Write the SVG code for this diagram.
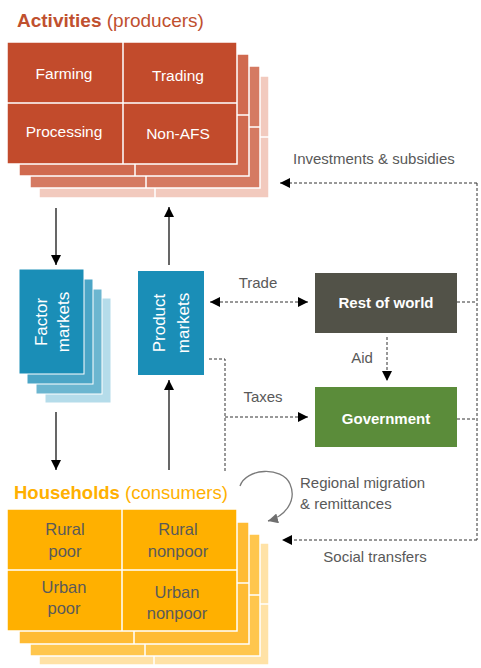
<svg xmlns="http://www.w3.org/2000/svg" width="481" height="668" viewBox="0 0 481 668">
<style>
text{font-family:"Liberation Sans",Arial,sans-serif}
.lbl{font-size:15px;fill:#595959}
.cellw{font-size:15.5px;fill:#ffffff;text-anchor:middle}
.cellh{font-size:16.5px;fill:#5a5a5a;text-anchor:middle}
.grid{stroke:#ffffff;stroke-width:1.5;fill:none}
.solid{stroke:#000;stroke-width:1.2;fill:none}
.dash{stroke:#333;stroke-width:1;stroke-dasharray:3,2;fill:none}
.box{font-size:15px;font-weight:bold;fill:#ffffff;text-anchor:middle}
.mk{font-size:17px;fill:#ffffff;text-anchor:middle}
</style>
<defs>
<marker id="ah" viewBox="0 0 10 10" refX="10" refY="5" markerWidth="10" markerHeight="10" markerUnits="userSpaceOnUse" orient="auto-start-reverse">
<path d="M0,0 L10,5 L0,10 z" fill="#000"/>
</marker>
<marker id="ahg" viewBox="0 0 10 10" refX="10" refY="5" markerWidth="10" markerHeight="10" markerUnits="userSpaceOnUse" orient="auto">
<path d="M0,0 L10,5 L0,10 z" fill="#6f6f6f"/>
</marker>
</defs>

<g id="activities">
<text x="17" y="27" style="font-size:19px;fill:#c0502f"><tspan font-weight="bold">Activities</tspan> (producers)</text>
<g transform="translate(32,34)"><rect x="7" y="42" width="230" height="122" fill="#f2cabe"/><path class="grid" d="M123,42V164M7,103H237"/><rect x="7" y="42" width="230" height="122" class="grid"/></g>
<g transform="translate(23,24)"><rect x="7" y="42" width="230" height="122" fill="#d57a62"/><path class="grid" d="M123,42V164M7,103H237"/><rect x="7" y="42" width="230" height="122" class="grid"/></g>
<g transform="translate(12,12)"><rect x="7" y="42" width="230" height="122" fill="#d06a4f"/><path class="grid" d="M123,42V164M7,103H237"/><rect x="7" y="42" width="230" height="122" class="grid"/></g>
<rect x="7" y="42" width="230" height="122" fill="#c24b2c"/>
<path class="grid" d="M123,42V164M7,103H237"/>
<rect x="7" y="42" width="230" height="122" class="grid"/>
<text class="cellw" x="64" y="79">Farming</text>
<text class="cellw" x="178" y="81">Trading</text>
<text class="cellw" x="64" y="137">Processing</text>
<text class="cellw" x="178" y="139">Non-AFS</text>
</g>

<g id="factor-markets">
<rect x="45" y="298" width="66" height="105" fill="#b5dcea" stroke="#fff"/>
<rect x="36" y="289" width="66" height="105" fill="#6cb6d0" stroke="#fff"/>
<rect x="27" y="279" width="66" height="105" fill="#4ba5c6" stroke="#fff"/>
<rect x="19" y="269" width="65" height="105" fill="#1a8eb7" stroke="#fff"/>
<text class="mk" transform="translate(47,322) rotate(-90)">Factor</text>
<text class="mk" transform="translate(69,322) rotate(-90)">markets</text>
</g>

<g id="product-markets">
<rect x="138" y="271" width="66" height="104" fill="#1a8eb7"/>
<text class="mk" transform="translate(165,323) rotate(-90)">Product</text>
<text class="mk" transform="translate(189,323) rotate(-90)">markets</text>
</g>

<g id="rest-of-world">
<rect x="315" y="273" width="142" height="60" fill="#525248"/>
<text class="box" x="386" y="308">Rest of world</text>
</g>

<g id="government">
<rect x="315" y="387" width="142" height="60" fill="#5b8c3a"/>
<text class="box" x="386" y="424">Government</text>
</g>

<g id="households">
<text x="14" y="499" style="font-size:18.5px;fill:#ffb000"><tspan font-weight="bold">Households</tspan> (consumers)</text>
<g transform="translate(32,34)"><rect x="7" y="509" width="230" height="122" fill="#ffe2a6"/><path class="grid" d="M122,509V631M7,570H237"/><rect x="7" y="509" width="230" height="122" class="grid"/></g>
<g transform="translate(23,25)"><rect x="7" y="509" width="230" height="122" fill="#ffc64d"/><path class="grid" d="M122,509V631M7,570H237"/><rect x="7" y="509" width="230" height="122" class="grid"/></g>
<g transform="translate(12,13)"><rect x="7" y="509" width="230" height="122" fill="#ffbb33"/><path class="grid" d="M122,509V631M7,570H237"/><rect x="7" y="509" width="230" height="122" class="grid"/></g>
<rect x="7" y="509" width="230" height="122" fill="#ffb000"/>
<path class="grid" d="M122,509V631M7,570H237"/>
<rect x="7" y="509" width="230" height="122" class="grid"/>
<text class="cellh" x="65" y="535">Rural</text>
<text class="cellh" x="65" y="557">poor</text>
<text class="cellh" x="178" y="535">Rural</text>
<text class="cellh" x="178" y="557">nonpoor</text>
<text class="cellh" x="64" y="593">Urban</text>
<text class="cellh" x="64" y="614">poor</text>
<text class="cellh" x="177" y="598">Urban</text>
<text class="cellh" x="177" y="619">nonpoor</text>
</g>

<g id="connectors">
<path class="solid" d="M56,208V265" marker-end="url(#ah)"/>
<path class="solid" d="M169,265V207" marker-end="url(#ah)"/>
<path class="solid" d="M56,412V470" marker-end="url(#ah)"/>
<path class="solid" d="M169,470V380" marker-end="url(#ah)"/>
<path class="dash" d="M210,302H308" marker-start="url(#ah)" marker-end="url(#ah)"/>
<path class="dash" d="M387,337V381" marker-end="url(#ah)"/>
<path class="dash" d="M209,359H225V471"/>
<path class="dash" d="M225,417H308" marker-end="url(#ah)"/>
<path class="dash" d="M477,183V540"/>
<path class="dash" d="M477,183H280" marker-end="url(#ah)"/>
<path class="dash" d="M457,302H477"/>
<path class="dash" d="M457,419H477"/>
<path class="dash" d="M477,540H282" marker-end="url(#ah)"/>
<path d="M240,486C246,468 282,466 290,484C297,500 286,516 268,521" stroke="#7a7a7a" stroke-width="1.3" fill="none" marker-end="url(#ahg)"/>
<text class="lbl" x="258" y="288" text-anchor="middle">Trade</text>
<text class="lbl" x="362" y="363" text-anchor="middle">Aid</text>
<text class="lbl" x="263" y="402" text-anchor="middle">Taxes</text>
<text class="lbl" x="293" y="164">Investments &amp; subsidies</text>
<text class="lbl" x="300" y="488">Regional migration</text>
<text class="lbl" x="300" y="509">&amp; remittances</text>
<text class="lbl" x="375" y="562" text-anchor="middle">Social transfers</text>
</g>
</svg>
